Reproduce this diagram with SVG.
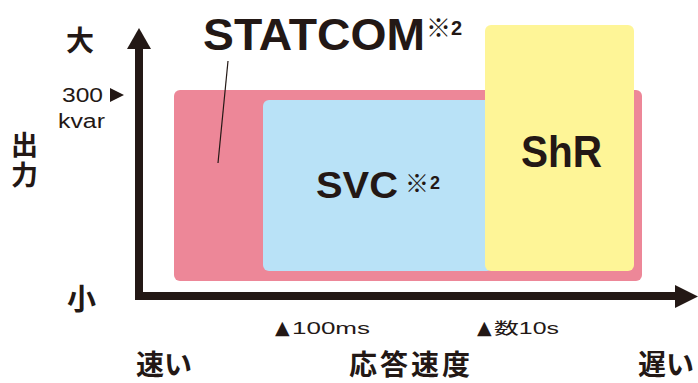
<svg xmlns="http://www.w3.org/2000/svg" width="698" height="383" viewBox="0 0 698 383">
<style>
.jp{font-family:"Noto Sans CJK JP","Liberation Sans",sans-serif;font-weight:bold;fill:#231815}
.en{font-family:"Liberation Sans","Noto Sans CJK JP",sans-serif;fill:#231815}
.b{font-weight:bold}
.tri{font-family:"DejaVu Sans",sans-serif;fill:#231815}
</style>
<rect width="698" height="383" fill="#ffffff"/>
<g id="statcom">
<rect x="174" y="90" width="468" height="191" rx="6" fill="#ED8798"/>
<text class="en b" x="203" y="50" font-size="44" textLength="222" lengthAdjust="spacingAndGlyphs">STATCOM</text>
<text class="jp" x="426" y="37" font-size="25">※</text>
<text class="en b" x="451" y="35" font-size="20">2</text>
</g>
<g id="svc">
<rect x="263" y="100" width="230" height="171" rx="6" fill="#B9E2F7"/>
<text class="en b" x="316" y="198" font-size="36" textLength="82" lengthAdjust="spacingAndGlyphs">SVC</text>
<text class="jp" x="405" y="192" font-size="24">※</text>
<text class="en b" x="430" y="189" font-size="18">2</text>
</g>
<g id="shr">
<rect x="485" y="25" width="149" height="246" rx="6" fill="#FEF597"/>
<text class="en b" x="521" y="167" font-size="44" textLength="81" lengthAdjust="spacingAndGlyphs">ShR</text>
</g>
<g id="connectors" fill="#231815" stroke="#231815">
<line x1="228" y1="61" x2="218" y2="163" stroke-width="1.2"/>
<polyline points="139,48 139,296 680,296" fill="none" stroke-width="8"/>
<polygon points="127,49 139,28 151,49" stroke="none"/>
<polygon points="675,285 698,296.5 675,308" stroke="none"/>
</g>
<g id="labels">
<text class="jp" x="66" y="51" font-size="28">大</text>
<text class="jp" x="67" y="310" font-size="29">小</text>
<text class="jp" x="24.5" y="131" font-size="27" writing-mode="vertical-rl" letter-spacing="3">出力</text>
<text class="en" x="62" y="102" font-size="20" textLength="41" lengthAdjust="spacingAndGlyphs">300</text>
<polygon points="110,88 110,102 124,95" fill="#231815"/>
<text class="en" x="58" y="128" font-size="20" textLength="47" lengthAdjust="spacingAndGlyphs">kvar</text>
<text class="tri" x="275" y="334" font-size="19">▲</text>
<text class="en" x="292" y="334" font-size="16" textLength="78" lengthAdjust="spacingAndGlyphs">100ms</text>
<text class="tri" x="477" y="334" font-size="19">▲</text>
<text class="en" x="494" y="334" font-size="16" textLength="65" lengthAdjust="spacingAndGlyphs">数10s</text>
<text class="jp" x="136" y="375" font-size="28">速い</text>
<text class="jp" x="349" y="375" font-size="28" letter-spacing="3">応答速度</text>
<text class="jp" x="638" y="375" font-size="28">遅い</text>
</g>
</svg>
